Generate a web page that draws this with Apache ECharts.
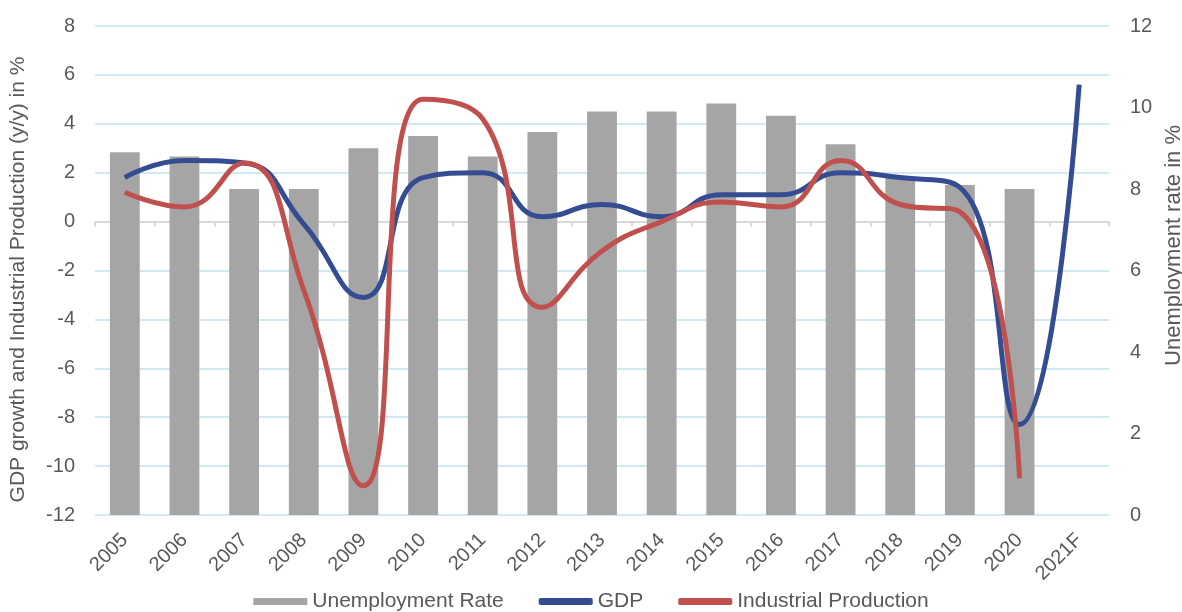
<!DOCTYPE html>
<html>
<head>
<meta charset="utf-8">
<script src="https://cdn.jsdelivr.net/npm/echarts@6/dist/echarts.min.js"></script>
<style>
html,body{margin:0;padding:0;background:#fff;overflow:hidden;}
#chart{width:1182px;height:612px;}
</style>
</head>
<body>
<div id="chart"></div>
<script>
const categories = ['2005','2006','2007','2008','2009','2010','2011','2012','2013','2014','2015','2016','2017','2018','2019','2020','2021F'];
const unemploymentRate = [8.9, 8.8, 8.0, 8.0, 9.0, 9.3, 8.8, 9.4, 9.9, 9.9, 10.1, 9.8, 9.1, 8.3, 8.1, 8.0, null];
const gdp = [1.8, 2.5, 2.4, -0.1, -3.1, 1.8, 2.0, 0.2, 0.7, 0.2, 1.1, 1.1, 2.0, 1.8, 1.4, -8.3, 5.6];
const industrialProduction = [1.2, 0.6, 2.4, -2.8, -10.8, 5.0, 4.2, -3.5, -1.2, 0.0, 0.8, 0.6, 2.5, 0.7, 0.4, -10.5, null];
const leftTicks = {min: -12, max: 8, interval: 2};
const rightTicks = {min: 0, max: 12, interval: 2};

const FONT = 'Liberation Sans, Arial, sans-serif';
const TXT = '#595959';

const chart = echarts.init(document.getElementById('chart'));
chart.setOption({
  animation: false,
  backgroundColor: '#ffffff',
  textStyle: {fontFamily: FONT},
  grid: {left: 95, right: 73, top: 26, bottom: 97, containLabel: false, outerBoundsMode: 'none'},
  legend: {
    top: 586,
    left: 'center',
    itemWidth: 54,
    itemHeight: 7,
    itemGap: 35,
    textStyle: {fontFamily: FONT, fontSize: 21, color: TXT},
    data: [
      {name: 'Unemployment Rate', icon: 'rect'},
      {name: 'GDP', icon: 'roundRect'},
      {name: 'Industrial Production', icon: 'roundRect'}
    ]
  },
  xAxis: [
    {
      type: 'category',
      data: categories,
      position: 'bottom',
      axisLine: {show: false},
      axisTick: {show: false},
      axisLabel: {rotate: 45, fontSize: 20, color: TXT, fontFamily: FONT, margin: 22, interval: 0},
      splitLine: {show: false}
    },
    {
      type: 'category',
      data: categories,
      position: 'bottom',
      axisLine: {show: true, onZero: true, onZeroAxisIndex: 0, lineStyle: {color: '#d9d9d9', width: 2}},
      axisTick: {show: true, length: 5, lineStyle: {color: '#d9d9d9', width: 2}},
      axisLabel: {show: false},
      splitLine: {show: false}
    }
  ],
  yAxis: [
    {
      type: 'value',
      min: leftTicks.min, max: leftTicks.max, interval: leftTicks.interval,
      name: 'GDP growth and Industrial Production (y/y) in %',
      nameLocation: 'middle',
      nameGap: 66,
      nameTextStyle: {fontSize: 21, color: TXT, fontFamily: FONT, padding: [0, 18, 0, 0]},
      axisLine: {show: false},
      axisTick: {show: false},
      axisLabel: {fontSize: 20, color: TXT, fontFamily: FONT, margin: 20},
      splitLine: {show: true, lineStyle: {color: '#c2e3ee', width: 1.5}}
    },
    {
      type: 'value',
      position: 'right',
      min: rightTicks.min, max: rightTicks.max, interval: rightTicks.interval,
      name: 'Unemployment rate in %',
      nameLocation: 'middle',
      nameGap: 53,
      nameTextStyle: {fontSize: 22, color: TXT, fontFamily: FONT, padding: [0, 0, 0, 50]},
      axisLine: {show: false},
      axisTick: {show: false},
      axisLabel: {fontSize: 20, color: TXT, fontFamily: FONT, margin: 21},
      splitLine: {show: false}
    }
  ],
  series: [
    {
      name: 'Unemployment Rate',
      type: 'bar',
      xAxisIndex: 0,
      yAxisIndex: 1,
      data: unemploymentRate,
      barWidth: '50%',
      itemStyle: {color: '#a5a5a5'},
      z: 1
    },
    {
      name: 'GDP',
      type: 'line',
      xAxisIndex: 0,
      yAxisIndex: 0,
      data: gdp,
      smooth: 0.5,
      symbol: 'none',
      lineStyle: {color: '#344c91', width: 5},
      itemStyle: {color: '#344c91'},
      z: 3
    },
    {
      name: 'Industrial Production',
      type: 'line',
      xAxisIndex: 0,
      yAxisIndex: 0,
      data: industrialProduction,
      smooth: 0.5,
      symbol: 'none',
      lineStyle: {color: '#c0504d', width: 5},
      itemStyle: {color: '#c0504d'},
      z: 4
    }
  ]
});
</script>
</body>
</html>
